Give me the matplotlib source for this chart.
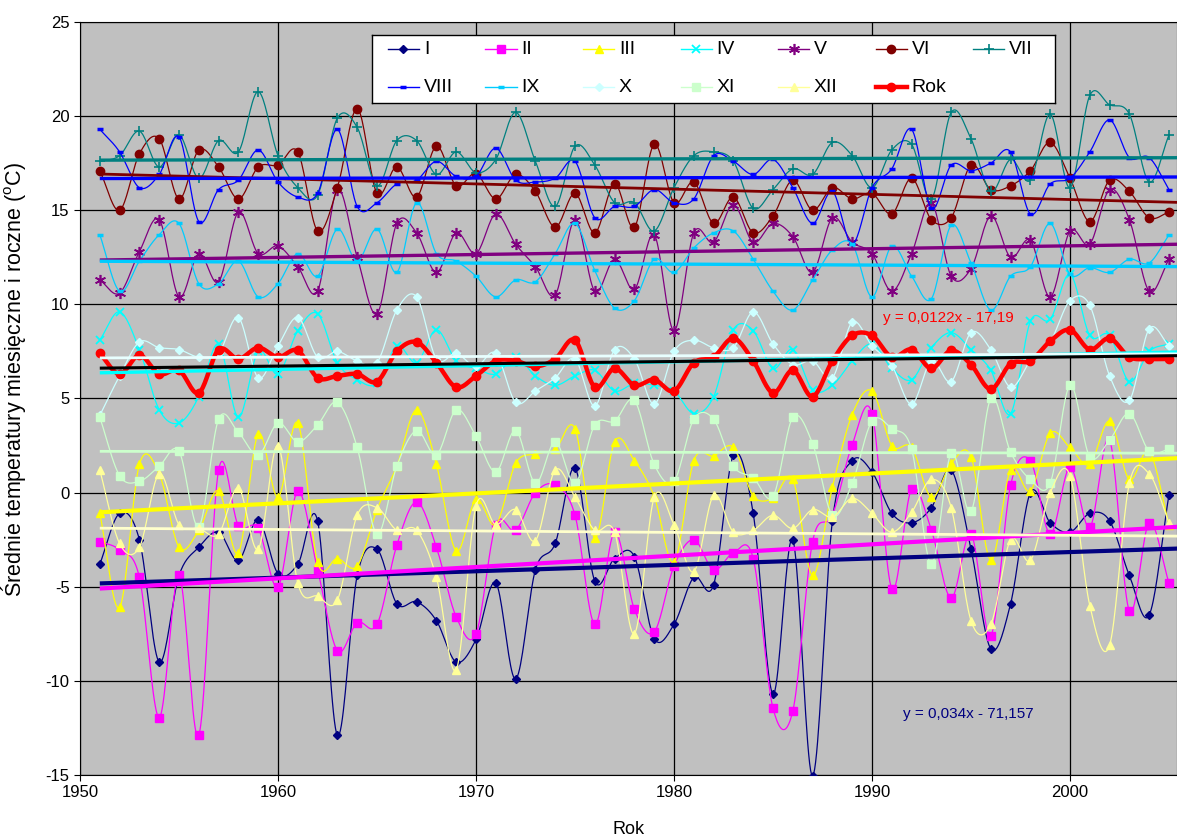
import numpy as np
import matplotlib
matplotlib.use('Agg')
import matplotlib.pyplot as plt

plt.rcParams['font.family'] = ['Liberation Sans', 'DejaVu Sans']
plt.rcParams['mathtext.default'] = 'regular'
plt.rcParams['axes.unicode_minus'] = False

years = np.arange(1951, 2006)

t_I = [-3.8, -1.1, -2.5, -9.0, -4.4, -2.9, -2.1, -3.6, -1.45, -4.3,
       -3.8, -1.5, -12.9, -4.4, -3.0, -5.9, -5.8, -6.8, -9.0, -7.8,
       -4.8, -9.9, -4.1, -2.7, 1.3, -4.7, -3.5, -3.4, -7.75, -7.0,
       -4.5, -4.9, 2.0, -1.1, -10.7, -2.5, -15.05, -1.5, 1.7, 1.1,
       -1.1, -1.6, -0.8, 1.2, -3.0, -8.3, -5.9, 0.0, -1.6, -2.1,
       -1.1, -1.5, -4.4, -6.5, -0.1]
t_II = [-2.6, -3.05, -4.5, -11.95, -4.4, -12.9, 1.2, -1.75, -1.9, -5.0,
        0.07, -4.1, -8.4, -6.9, -7.0, -2.8, -0.5, -2.9, -6.6, -7.5,
        -1.7, -2.0, 0.0, 0.4, -1.2, -7.0, -2.1, -6.2, -7.4, -3.9,
        -2.5, -4.1, -3.2, -3.5, -11.45, -11.6, -2.6, -1.2, 2.55, 4.2,
        -5.1, 0.2, -2.0, -5.6, -2.2, -7.6, 0.4, 1.7, -2.2, 1.35,
        -1.85, 2.8, -6.3, -1.6, -4.8]
t_III = [-1.1, -6.1, 1.5, 1.0, -2.9, -2.0, 0.1, -3.2, 3.1, -0.25,
         3.7, -3.7, -3.5, -3.9, -0.9, 1.4, 4.4, 1.5, -3.1, -0.35,
         -1.7, 1.55, 2.05, 2.3, 3.4, -2.4, 2.7, 1.7, -0.2, -3.7,
         1.7, 1.95, 2.4, -0.16, -0.3, 0.7, -4.4, 0.3, 4.15, 5.4,
         2.5, 2.4, -0.25, 1.55, 1.9, -3.6, 1.2, 0.1, 3.15, 2.4,
         1.5, 3.8, 0.7, 2.2, -1.7]
t_IV = [8.1, 9.6, 7.6, 4.4, 3.7, 5.1, 7.9, 4.0, 7.5, 6.3,
        8.6, 9.5, 6.9, 6.0, 5.8, 7.8, 6.9, 8.65, 7.0, 6.6,
        6.3, 7.2, 6.2, 5.7, 6.2, 6.5, 5.4, 5.8, 5.7, 5.4,
        4.2, 5.1, 8.65, 8.6, 6.6, 7.6, 5.45, 5.7, 7.0, 7.9,
        6.6, 6.0, 7.7, 8.5, 7.6, 6.5, 4.2, 9.1, 9.2, 11.6,
        8.35, 8.35, 5.9, 7.5, 7.9]
t_V = [11.3, 10.6, 12.8, 14.5, 10.4, 12.7, 11.2, 14.9, 12.7, 13.1,
       12.0, 10.7, 16.1, 12.5, 9.5, 14.3, 13.8, 11.7, 13.8, 12.7,
       14.8, 13.2, 12.0, 10.5, 14.5, 10.7, 12.4, 10.8, 13.7, 8.6,
       13.8, 13.3, 15.3, 13.3, 14.3, 13.6, 11.7, 14.6, 13.3, 12.7,
       10.7, 12.7, 15.4, 11.5, 11.9, 14.7, 12.5, 13.4, 10.4, 13.9,
       13.2, 16.1, 14.5, 10.7, 12.4]
t_VI = [17.1, 15.0, 18.0, 18.8, 15.6, 18.2, 17.3, 15.6, 17.3, 17.4,
        18.1, 13.9, 16.2, 20.4, 15.9, 17.3, 15.7, 18.4, 16.3, 16.95,
        15.6, 16.9, 16.0, 14.1, 15.9, 13.8, 16.4, 14.1, 18.5, 15.4,
        16.5, 14.3, 15.7, 13.8, 14.7, 16.6, 15.0, 16.2, 15.6, 15.9,
        14.8, 16.7, 14.5, 14.6, 17.4, 16.1, 16.3, 17.1, 18.6, 16.7,
        14.4, 16.6, 16.0, 14.6, 14.9]
t_VII = [17.6, 17.9, 19.2, 17.3, 19.0, 16.7, 18.7, 18.1, 21.3, 17.9,
         16.2, 15.8, 19.9, 19.4, 16.3, 18.7, 18.7, 16.9, 18.1, 17.0,
         17.7, 20.2, 17.6, 15.2, 18.4, 17.4, 15.4, 15.4, 13.9, 16.2,
         17.9, 18.1, 17.6, 15.1, 16.1, 17.2, 16.9, 18.6, 17.9, 16.2,
         18.2, 18.5, 15.6, 20.2, 18.8, 16.0, 17.7, 16.6, 20.1, 16.2,
         21.1, 20.6, 20.1, 16.5, 19.0]
t_VIII = [19.3, 18.1, 16.2, 16.9, 18.9, 14.4, 16.1, 16.6, 18.2, 16.5,
          15.7, 15.9, 19.3, 15.2, 15.4, 16.4, 16.6, 17.6, 16.8, 16.8,
          18.3, 16.6, 16.5, 16.7, 17.6, 14.6, 15.2, 15.2, 16.1, 15.4,
          15.6, 17.9, 17.6, 16.9, 17.7, 16.2, 14.3, 16.0, 13.2, 16.2,
          17.2, 19.3, 15.1, 17.4, 17.1, 17.5, 18.1, 14.8, 16.4, 16.7,
          18.1, 19.8, 17.8, 17.8, 16.1]
t_IX = [13.7, 10.7, 12.3, 13.7, 14.3, 11.1, 11.1, 12.3, 10.4, 11.1,
        12.7, 11.5, 14.0, 12.3, 14.0, 11.7, 15.4, 12.7, 12.3, 11.5,
        10.4, 11.3, 11.2, 12.7, 14.3, 11.8, 9.8, 10.2, 12.4, 11.7,
        13.0, 13.8, 13.9, 12.4, 10.7, 9.7, 11.3, 12.9, 13.2, 10.4,
        13.1, 11.5, 10.3, 14.2, 12.2, 9.7, 11.5, 12.0, 14.3, 11.6,
        11.95, 11.7, 12.4, 12.2, 13.7]
t_X = [4.1, 6.2, 8.0, 7.7, 7.6, 7.2, 7.4, 9.3, 6.1, 7.8,
       9.3, 7.2, 7.5, 7.0, 6.9, 9.7, 10.4, 7.1, 7.4, 6.7,
       7.4, 4.8, 5.4, 6.1, 7.1, 4.6, 7.6, 7.1, 4.7, 7.5,
       8.1, 7.7, 7.7, 9.6, 7.9, 6.8, 7.0, 6.1, 9.05, 7.8,
       6.75, 4.7, 7.0, 5.9, 8.5, 7.6, 5.6, 7.0, 8.0, 10.2,
       9.95, 6.2, 4.9, 8.7, 7.8]
t_XI = [4.0, 0.9, 0.6, 1.4, 2.2, -1.8, 3.9, 3.2, 2.0, 3.7,
        2.7, 3.6, 4.8, 2.4, -2.2, 1.4, 3.3, 2.0, 4.4, 3.0,
        1.1, 3.3, 0.5, 2.7, 0.5, 3.6, 3.8, 4.9, 1.5, 0.6,
        3.9, 3.9, 1.4, 0.8, -0.2, 4.0, 2.6, -1.2, 0.5, 3.8,
        3.4, 2.3, -3.8, 2.1, -1.0, 5.0, 2.15, 0.7, 0.5, 5.7,
        1.9, 2.8, 4.2, 2.2, 2.3]
t_XII = [1.2, -2.7, -2.9, 1.0, -1.7, -1.9, -2.2, 0.25, -3.0, 2.5,
         -4.8, -5.5, -5.7, -1.2, -0.8, -2.0, -2.0, -4.5, -9.4, -0.7,
         -1.7, -0.9, -2.55, 1.2, -0.25, -2.0, -2.1, -7.5, -0.25, -1.7,
         -4.2, -0.15, -2.1, -2.0, -1.2, -1.9, -0.9, -1.3, -0.3, -1.1,
         -2.1, -1.05, 0.7, -0.8, -6.8, -7.0, -2.5, -3.6, 0.0, 0.9,
         -6.0, -8.1, 0.5, 1.0, -1.6]
t_rok = [7.4, 6.3, 7.3, 6.3, 6.5, 5.3, 7.6, 7.1, 7.7, 7.2,
         7.55, 6.1, 6.2, 6.3, 5.9, 7.5, 8.0, 6.9, 5.6, 6.2,
         7.0, 7.0, 6.7, 7.1, 8.1, 5.6, 6.6, 5.7, 6.0, 5.4,
         6.9, 7.2, 8.2, 7.0, 5.3, 6.5, 5.1, 7.0, 8.35, 8.35,
         7.2, 7.6, 6.6, 7.55, 6.8, 5.5, 6.85, 7.0, 8.05, 8.65,
         7.6, 8.2, 7.2, 7.1, 7.1]

# trend equations printed on the chart
rok_coef = (0.0122, -17.19)
jan_coef = (0.034, -71.157)

# label, data, line colour, marker, marker size, marker edge width, trend colour, trend width
series = [
    ('I', t_I, '#000080', 'D', 4, 1, '#000080', 3.0),
    ('II', t_II, '#FF00FF', 's', 5.5, 1, '#FF00FF', 3.0),
    ('III', t_III, '#FFFF00', '^', 6, 1, '#FFFF00', 3.0),
    ('IV', t_IV, '#00FFFF', 'x', 6, 1.3, '#00FFFF', 2.4),
    ('V', t_V, '#800080', (6, 2, 0), 8, 1.2, '#800080', 2.4),
    ('VI', t_VI, '#800000', 'o', 6, 1, '#800000', 2.0),
    ('VII', t_VII, '#008080', '+', 7, 1.2, '#008080', 2.4),
    ('VIII', t_VIII, '#0000FF', '_', 5, 2.5, '#0000FF', 2.4),
    ('IX', t_IX, '#00CCFF', '_', 5, 2.5, '#00CCFF', 2.4),
    ('X', t_X, '#CCFFFF', 'D', 4, 1, '#E8FFFF', 2.0),
    ('XI', t_XI, '#CCFFCC', 's', 5.5, 1, '#CCFFCC', 2.0),
    ('XII', t_XII, '#FFFF99', '^', 6, 1, '#FFFFCC', 2.0),
    ('Rok', t_rok, '#FF0000', 'o', 6, 1, '#000000', 2.2),
]


def smooth(x, y, n=20):
    # Catmull-Rom curve through the points, like Excel's smoothed line
    x = np.asarray(x, float)
    y = np.asarray(y, float)
    px = np.concatenate([[2 * x[0] - x[1]], x, [2 * x[-1] - x[-2]]])
    py = np.concatenate([[2 * y[0] - y[1]], y, [2 * y[-1] - y[-2]]])
    t = np.linspace(0, 1, n, endpoint=False)
    xs, ys = [], []
    for i in range(1, len(px) - 2):
        for p, out in ((px, xs), (py, ys)):
            p0, p1, p2, p3 = p[i - 1], p[i], p[i + 1], p[i + 2]
            out.append(0.5 * (2 * p1 + (-p0 + p2) * t
                              + (2 * p0 - 5 * p1 + 4 * p2 - p3) * t ** 2
                              + (-p0 + 3 * p1 - 3 * p2 + p3) * t ** 3))
    xs = np.concatenate(xs + [[x[-1]]])
    ys = np.concatenate(ys + [[y[-1]]])
    return xs, ys


W, H = 1177, 840
fig = plt.figure(figsize=(W / 100, H / 100), dpi=100)
ax = fig.add_axes([80 / W, 65 / H, 1097 / W, 753 / H])
ax.set_facecolor('#C0C0C0')

trend_x = np.array([1951, 2006])
for label, data, col, mk, ms, mew, tcol, tlw in series:
    lw = 3.2 if label == 'Rok' else 0.9
    sx, sy = smooth(years, data)
    ax.plot(sx, sy, color=col, lw=lw, zorder=3)
    ax.plot(years, data, ls='none', marker=mk, ms=ms, mew=mew,
            color=col, mec=col, mfc=col, zorder=3)

for label, data, col, mk, ms, mew, tcol, tlw in series:
    if label == 'Rok':
        a, b = rok_coef
    elif label == 'I':
        a, b = jan_coef
    else:
        a, b = np.polyfit(years, data, 1)
    ax.plot(trend_x, a * trend_x + b, color=tcol, lw=tlw, zorder=4,
            solid_capstyle='butt')

ax.text(1990.55, 9.26, 'y = 0,0122x - 17,19', color='#FF0000',
        fontsize=11, va='center', ha='left', zorder=6)
ax.text(1991.57, -11.76, 'y = 0,034x - 71,157', color='#000080',
        fontsize=11, va='center', ha='left', zorder=6)

ax.set_xlim(1950, 1950 + 1097 / 19.8)
ax.set_ylim(-15, 25)
ax.set_xticks(np.arange(1950, 2001, 10))
ax.set_yticks(np.arange(-15, 26, 5))
ax.grid(True, color='black', lw=0.9)
ax.set_axisbelow(True)
ax.tick_params(labelsize=12, length=4, width=0.8, color='black')
for s in ax.spines.values():
    s.set_color('black')
    s.set_linewidth(0.8)

ax.set_xlabel('Rok', fontsize=13, labelpad=15)
ax.set_ylabel('Średnie temperatury miesięczne i roczne ($^{o}$C)', fontsize=15.5)
ax.yaxis.set_label_coords(-0.047, 0.525)

# legend box: two rows of seven fixed-width columns
lax = fig.add_axes([372 / W, 1 - 103 / H, 683 / W, 68 / H])
lax.set_xlim(0, 683)
lax.set_ylim(68, 0)
lax.set_xticks([])
lax.set_yticks([])
lax.set_facecolor('white')
for s in lax.spines.values():
    s.set_color('black')
    s.set_linewidth(1.0)
for i, (label, data, col, mk, ms, mew, tcol, tlw) in enumerate(series):
    row, c = divmod(i, 7)
    x0 = 16 + 97.5 * c
    y0 = 14 + 38 * row
    lw = 3.2 if label == 'Rok' else 1.0
    lax.plot([x0, x0 + 31], [y0, y0], color=col, lw=lw)
    lax.plot([x0 + 15.5], [y0], ls='none', marker=mk, ms=ms, mew=mew,
             color=col, mec=col, mfc=col)
    lax.text(x0 + 36, y0, label, fontsize=14, va='center', ha='left')

fig.savefig('out.png', dpi=100, facecolor='white')
